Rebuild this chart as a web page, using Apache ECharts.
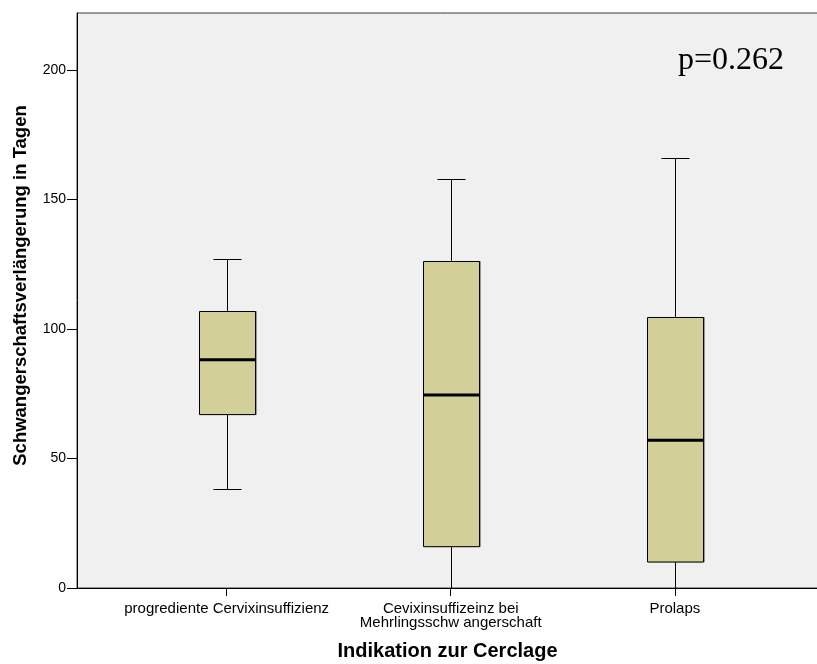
<!DOCTYPE html>
<html>
<head>
<meta charset="utf-8">
<script src="https://cdn.jsdelivr.net/npm/echarts@6/dist/echarts.min.js"></script>
<style>
html,body{margin:0;padding:0;background:#fff;}
#chart{width:817px;height:664px;}
</style>
</head>
<body>
<div id="chart"></div>
<script>
// Data
var categories = ['progrediente Cervixinsuffizienz', 'Cevixinsuffizeinz bei\nMehrlingsschw angerschaft', 'Prolaps'];
var categoryIndex = [1, 2, 3];
var whiskerLow  = [38.1, 0, 0];
var q1Values    = [67.2, 16.2, 10.2];
var medians     = [88.1, 74.5, 57.0];
var q3Values    = [107.0, 126.3, 104.6];
var whiskerHigh = [127.0, 157.8, 165.9];
var yTicks = [0, 50, 100, 150, 200];
var pValueText = 'p=0.262';

var boxData = categoryIndex.map(function (c, i) {
  return [c, whiskerLow[i], q1Values[i], medians[i], q3Values[i], whiskerHigh[i]];
});

var chart = echarts.init(document.getElementById('chart'), null, {renderer: 'canvas'});

function renderBox(params, api) {
  var x = api.value(0);
  var pMin = api.coord([x, api.value(1)]);
  var pQ1 = api.coord([x, api.value(2)]);
  var pMed = api.coord([x, api.value(3)]);
  var pQ3 = api.coord([x, api.value(4)]);
  var pMax = api.coord([x, api.value(5)]);
  var boxW = api.size([0.25, 0])[0];
  var capW = boxW / 2;
  var cx = Math.round(pMed[0]) + 0.5;
  var lineStyle = {stroke: '#000', lineWidth: 1};
  return {
    type: 'group',
    children: [
      {type: 'line', shape: {x1: cx, y1: pMin[1], x2: cx, y2: pQ1[1]}, style: lineStyle},
      {type: 'line', shape: {x1: cx, y1: pQ3[1], x2: cx, y2: pMax[1]}, style: lineStyle},
      {type: 'line', shape: {x1: cx - capW / 2, y1: Math.round(pMax[1]) + 0.5, x2: cx + capW / 2, y2: Math.round(pMax[1]) + 0.5}, style: lineStyle},
      {type: 'line', shape: {x1: cx - capW / 2, y1: Math.round(pMin[1]) + 0.5, x2: cx + capW / 2, y2: Math.round(pMin[1]) + 0.5}, style: lineStyle},
      {type: 'rect', shape: {x: Math.round(cx - boxW / 2) + 1.5, y: Math.round(pQ3[1]) + 0.5, width: boxW, height: pQ1[1] - pQ3[1]}, style: {fill: 'rgba(0,0,0,0)', stroke: '#9a9a9a', lineWidth: 1}},
      {type: 'rect', shape: {x: Math.round(cx - boxW / 2) + 0.5, y: Math.round(pQ3[1]) + 0.5, width: boxW, height: pQ1[1] - pQ3[1]}, style: {fill: '#d3cf98', stroke: '#000', lineWidth: 1}},
      {type: 'line', shape: {x1: cx - boxW / 2, y1: pMed[1], x2: cx + boxW / 2, y2: pMed[1]}, style: {stroke: '#000', lineWidth: 3}}
    ]
  };
}

var option = {
  animation: false,
  backgroundColor: '#ffffff',
  title: {
    text: pValueText,
    left: 673,
    top: 40,
    textStyle: {fontFamily: 'Liberation Serif', fontSize: 32, fontWeight: 'normal', color: '#000'}
  },
  grid: {
    left: 77, right: -1, top: 13, bottom: 76,
    containLabel: false,
    outerBoundsMode: 'none',
    show: true, backgroundColor: '#f0f0f0', borderColor: '#3a3a3a', borderWidth: 1
  },
  xAxis: {
    type: 'value',
    min: 0.332,
    max: 3.639,
    name: 'Indikation zur Cerclage',
    nameLocation: 'middle',
    nameGap: 53,
    nameTextStyle: {fontFamily: 'Liberation Sans', fontSize: 20, fontWeight: 'bold', color: '#000'},
    splitLine: {show: false},
    axisLine: {show: true, lineStyle: {color: '#000', width: 1}},
    axisTick: {show: true, length: 8, lineStyle: {color: '#000'}, customValues: categoryIndex},
    axisLabel: {
      customValues: categoryIndex,
      margin: 14,
      fontFamily: 'Liberation Sans', fontSize: 15, color: '#000', lineHeight: 14,
      formatter: function (v) {
        var i = categoryIndex.indexOf(Math.round(v));
        return i >= 0 ? categories[i] : '';
      }
    }
  },
  yAxis: {
    type: 'value',
    min: 0,
    max: 222,
    interval: 50,
    name: 'Schwangerschaftsverlängerung in Tagen',
    nameLocation: 'middle',
    nameGap: 47,
    nameTextStyle: {fontFamily: 'Liberation Sans', fontSize: 18.5, fontWeight: 'bold', color: '#000', padding: [0, 0, 0, 30]},
    splitLine: {show: false},
    axisLine: {show: true, lineStyle: {color: '#000', width: 1}},
    axisTick: {show: true, length: 10, lineStyle: {color: '#000'}, customValues: yTicks},
    axisLabel: {customValues: yTicks, margin: 11, fontFamily: 'Liberation Sans', fontSize: 14, color: '#000'}
  },
  series: [{
    type: 'custom',
    renderItem: renderBox,
    encode: {x: 0, y: [1, 2, 3, 4, 5]},
    data: boxData,
    clip: false
  }]
};
chart.setOption(option);
</script>
</body>
</html>
